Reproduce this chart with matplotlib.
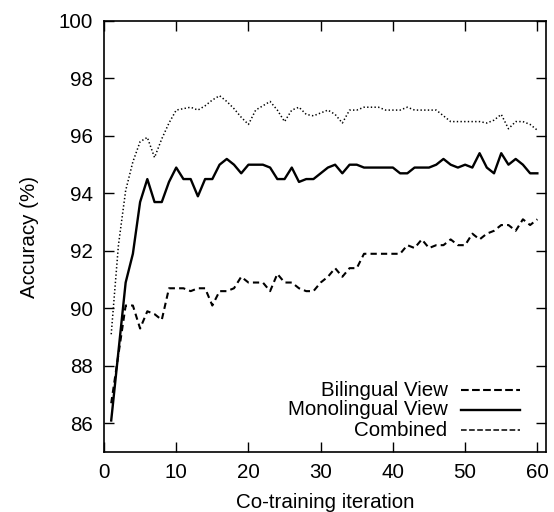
import matplotlib
matplotlib.use("Agg")
import matplotlib.pyplot as plt

plt.rcParams['font.family'] = ['Liberation Sans', 'DejaVu Sans']

# iterations 1..60
iterations = list(range(1, 61))

bilingual = [86.7, 88.4, 90.1, 90.1, 89.3, 89.9, 89.8, 89.6, 90.7, 90.7,
             90.7, 90.6, 90.7, 90.7, 90.1, 90.6, 90.6, 90.7, 91.1, 90.9,
             90.9, 90.9, 90.6, 91.2, 90.9, 90.9, 90.7, 90.6, 90.6, 90.9,
             91.1, 91.4, 91.1, 91.4, 91.4, 91.9, 91.9, 91.9, 91.9, 91.9,
             91.9, 92.2, 92.1, 92.4, 92.1, 92.2, 92.2, 92.4, 92.2, 92.2,
             92.6, 92.4, 92.6, 92.7, 92.9, 92.9, 92.7, 93.1, 92.9, 93.1]

monolingual = [86.1, 88.5, 90.9, 91.9, 93.7, 94.5, 93.7, 93.7, 94.4, 94.9,
               94.5, 94.5, 93.9, 94.5, 94.5, 95.0, 95.2, 95.0, 94.7, 95.0,
               95.0, 95.0, 94.9, 94.5, 94.5, 94.9, 94.4, 94.5, 94.5, 94.7,
               94.9, 95.0, 94.7, 95.0, 95.0, 94.9, 94.9, 94.9, 94.9, 94.9,
               94.7, 94.7, 94.9, 94.9, 94.9, 95.0, 95.2, 95.0, 94.9, 95.0,
               94.9, 95.4, 94.9, 94.7, 95.4, 95.0, 95.2, 95.0, 94.7, 94.7]

combined = [89.1, 92.2, 94.1, 95.1, 95.8, 95.95, 95.25, 95.9, 96.45, 96.9,
            96.95, 97.0, 96.9, 97.05, 97.25, 97.4, 97.2, 96.95, 96.65, 96.4,
            96.9, 97.05, 97.2, 96.9, 96.5, 96.9, 97.0, 96.75, 96.7, 96.8,
            96.9, 96.75, 96.45, 96.9, 96.9, 97.0, 97.0, 97.0, 96.9, 96.9,
            96.9, 97.0, 96.9, 96.9, 96.9, 96.9, 96.7, 96.5, 96.5, 96.5,
            96.5, 96.5, 96.45, 96.55, 96.75, 96.25, 96.5, 96.5, 96.4, 96.2]

labels = ['Bilingual View', 'Monolingual View', 'Combined']

fs = 14.8

fig = plt.figure(figsize=(5.54, 5.12), dpi=100)
ax = fig.add_axes([0.1877, 0.117, 0.7979, 0.842])

lines = []
lines += ax.plot(iterations, bilingual, color='black', lw=1.5, linestyle=(0, (3, 2)))
lines += ax.plot(iterations, monolingual, color='black', lw=1.7, linestyle='-')
lines += ax.plot(iterations, combined, color='black', lw=1.1, linestyle=(0, (0.9, 1.5)))

ax.set_xlim(0, 61.2)
ax.set_ylim(85, 100)
ax.set_xticks(range(0, 61, 10))
ax.set_yticks(range(86, 101, 2))
ax.tick_params(direction='in', length=7, width=1, labelsize=fs,
               top=True, right=True, pad=8)
for s in ax.spines.values():
    s.set_linewidth(1.2)

ax.set_xlabel('Co-training iteration', fontsize=fs, labelpad=8)
ax.set_ylabel('Accuracy (%)', fontsize=fs, labelpad=14)

# gnuplot-style key: right-aligned text, sample on the right
key_y = [0.144, 0.098, 0.051]
for ln, lab, yy in zip(lines, labels, key_y):
    ax.text(0.777, yy, lab, transform=ax.transAxes, ha='right', va='center', fontsize=fs)
    ax.plot([0.808, 0.94], [yy, yy], transform=ax.transAxes, color='black',
            lw=ln.get_linewidth(), linestyle=ln.get_linestyle(), clip_on=False)

fig.savefig('out.png', dpi=100)
